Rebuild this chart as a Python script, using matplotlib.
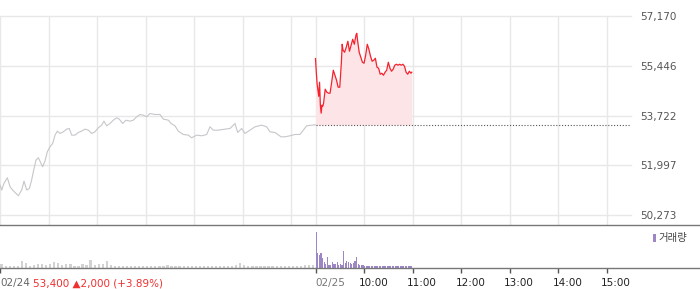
import matplotlib
matplotlib.use("Agg")
import matplotlib.pyplot as plt
import matplotlib.transforms as mtransforms
from matplotlib.patches import Rectangle

# ---------------- data ----------------
# previous day (02/24), minutes since 09:00
prev_minutes = [0, 2.1, 4.9, 9.1, 12.4, 15.7, 18.5, 22.7, 26.8, 29.7, 33.0, 36.3, 39.1,
                41.2, 44.5, 47.4, 49.4, 52.7, 55.6, 58.5, 61.8, 65.1, 68.0, 70.9, 74.2,
                78.3, 82.4, 85.7, 88.6, 92.7, 96.8, 100.9, 105.1, 109.2, 113.3, 117.4,
                121.5, 125.7, 128.5, 131.8, 136.0, 140.1, 144.2, 147.5, 151.6, 155.7,
                160.7, 164.8, 168.9, 173.0, 177.2, 181.3, 185.4, 191.6, 197.8, 201.9,
                208.1, 211.4, 216.3, 220.4, 226.6, 232.8, 236.9, 243.1, 249.3, 255.5,
                259.6, 263.7, 269.9, 278.1, 284.3, 290.5, 293.8, 298.7, 302.8, 309.0,
                315.2, 323.4, 329.6, 333.7, 339.9, 347.3, 352.3, 358.5, 364.6, 370.8,
                374.9, 379.1, 385.3, 390]
prev_price = [51307, 51134, 51365, 51562, 51250, 51134, 51053, 50937, 51134, 51446,
              51134, 51192, 51481, 51770, 52175, 52256, 52140, 51943, 52140, 52464,
              52637, 52753, 53042, 53181, 53100, 53158, 53250, 53273, 53042, 53042,
              53134, 53181, 53250, 53215, 53100, 53158, 53296, 53389, 53528, 53366,
              53447, 53562, 53643, 53597, 53447, 53562, 53528, 53562, 53678, 53759,
              53736, 53678, 53794, 53759, 53759, 53597, 53562, 53447, 53366, 53181,
              53065, 53042, 52949, 53042, 53019, 53065, 53331, 53215, 53215, 53250,
              53273, 53447, 53134, 53273, 53100, 53215, 53331, 53389, 53331, 53158,
              53134, 52984, 52984, 53019, 53065, 53065, 53215, 53366, 53389, 53400]
prev_vol_minutes = list(range(0, 391, 5))
prev_volume = [100, 50, 50, 50, 38, 175, 125, 38, 75, 100,
               88, 75, 100, 150, 125, 75, 88, 100, 50, 62,
               88, 75, 200, 75, 88, 112, 175, 75, 50, 62,
               62, 50, 50, 50, 62, 62, 62, 50, 38, 38,
               62, 75, 38, 50, 38, 38, 50, 50, 50, 50,
               38, 50, 62, 62, 50, 50, 62, 50, 75, 125,
               75, 50, 50, 50, 62, 50, 62, 50, 50, 50,
               50, 50, 50, 62, 62, 75, 75, 75, 50]

# today (02/25), minutes since 09:00
today_minutes = [0, 1, 2, 3, 4, 5, 6, 7, 8, 9, 10, 12, 14, 16, 18, 20, 22, 24, 26, 28,
                 30, 32, 33, 34, 36, 38, 40, 42, 44, 46, 48, 50, 51, 52, 54, 56, 58, 60,
                 62, 64, 66, 68, 70, 72, 74, 76, 78, 80, 82, 84, 86, 88, 90, 92, 94, 96,
                 98, 100, 102, 104, 106, 108, 110, 112, 114, 116, 118, 119]
today_price = [55703, 55227, 54811, 54603, 54395, 54880, 54083, 53805, 54083, 54048,
               54152, 54638, 54534, 54499, 54499, 54880, 55297, 55123, 54950, 54707,
               54707, 55574, 56199, 55991, 55921, 56095, 56303, 55956, 56164, 56372,
               56199, 56511, 56580, 56337, 55921, 55748, 55574, 55540, 55817, 56199,
               56025, 55782, 55609, 55644, 55713, 55401, 55366, 55158, 55193, 55123,
               55227, 55297, 55574, 55366, 55262, 55331, 55470, 55505, 55470, 55505,
               55470, 55505, 55436, 55227, 55158, 55262, 55193, 55227]
today_vol_minutes = list(range(0, 120, 2))
today_volume = [900, 375, 325, 375, 250, 150, 100, 275, 75, 75,
                150, 100, 100, 150, 75, 100, 75, 425, 125, 175,
                150, 125, 100, 125, 175, 275, 100, 75, 75, 75,
                62, 50, 50, 62, 50, 50, 50, 62, 50, 50,
                38, 50, 38, 38, 38, 38, 38, 38, 38, 38,
                38, 38, 38, 38, 38, 38, 38, 38, 38, 38]

prev_close = 53400
y_ticks = [50273, 51997, 53722, 55446, 57170]
session_len = 390
hour_ticks_prev = [0, 60, 120, 180, 240, 300, 360]
hour_ticks_today = [390, 450, 510, 570, 630, 690, 750]
bottom_labels = ["10:00", "11:00", "12:00", "13:00", "14:00", "15:00"]

# ---------------- figure ----------------
W, H = 700, 289
fig = plt.figure(figsize=(W / 100, H / 100), dpi=100)

ax = fig.add_axes([0, 1 - 225 / H, 631 / W, (225 - 16) / H])
axv = fig.add_axes([0, 1 - 268 / H, 1, (268 - 225) / H])

grid_c = "#e8e8e8"
red = "#f5222d"
x_today = [m + session_len for m in today_minutes]

# price axes
per_px = (57170 - 55446) / 49.7
ax.set_xlim(0, 780)
ax.set_ylim(57170 - 209 * per_px, 57170 + 0.3 * per_px)
for xv in hour_ticks_prev + hour_ticks_today:
    ax.axvline(xv, color=grid_c, lw=1.0, zorder=0)
for yv in y_ticks:
    ax.axhline(yv, color=grid_c, lw=1.0, zorder=0, clip_on=False)

ax.plot(prev_minutes, prev_price, color="#c6c6cc", lw=0.8, zorder=2)
ax.fill_between(x_today, today_price, prev_close, color="#fde4e7", lw=0, zorder=1)
ax.plot(x_today, today_price, color=red, lw=0.9, zorder=3)
ax.plot([390, 780], [prev_close, prev_close], color="#555555", lw=0.8,
        linestyle=(0, (1, 1.6)), zorder=2)

ax.yaxis.tick_right()
ax.set_yticks(y_ticks)
ax.set_yticklabels([f"{v:,}" for v in y_ticks])
ax.tick_params(axis="y", length=0, pad=6.5, labelsize=7.5, labelcolor="#555555")
ax.set_xticks([])
for s in ax.spines.values():
    s.set_visible(False)

# volume axes
axv.set_xlim(0, 780 * W / 631)
axv.set_ylim(0, 43 * 25)
axv.bar([m + 2 for m in prev_vol_minutes], prev_volume, width=2.8, color="#d2d2d2", lw=0)
axv.bar([m + session_len + 0.8 for m in today_vol_minutes], today_volume, width=1.5,
        color="#9c86c6", lw=0)
for k in ["left", "right"]:
    axv.spines[k].set_visible(False)
for k in ["top", "bottom"]:
    axv.spines[k].set_color("#777777")
    axv.spines[k].set_linewidth(1.0)
axv.set_yticks([])
axv.set_xticks([0] + hour_ticks_today)
axv.set_xticklabels([])
axv.tick_params(axis="x", length=3.5, width=1.0, color="#555555")

# bottom labels
trans = mtransforms.blended_transform_factory(axv.transData, fig.transFigure)
ylab = 1 - 283 / H
px_min = 780 / 631
ax_txt = dict(transform=trans, va="center", ha="left", fontsize=7.5)
axv.text(0, ylab, "02/24", color="#666666", **ax_txt)
axv.text(33.3 * px_min, ylab, "53,400 ▲2,000 (+3.89%)", color="#f03030", **ax_txt)
axv.text(390, ylab, "02/25", color="#777777", **ax_txt)
for xv, lab in zip(hour_ticks_today[1:], bottom_labels):
    axv.text(xv - 5.5 * px_min, ylab, lab, color="#222222", **ax_txt)

# legend
fig.patches.append(Rectangle((653.3 / W, 1 - 242 / H), 3 / W, 8 / H,
                             transform=fig.transFigure, color="#9c86c6", lw=0))
fig.text(658.5 / W, 1 - 238.5 / H, "거래량", fontsize=7.5, color="#444444",
         va="center", ha="left", family=["Noto Sans CJK KR", "DejaVu Sans"])

fig.savefig("out.png", dpi=100)
